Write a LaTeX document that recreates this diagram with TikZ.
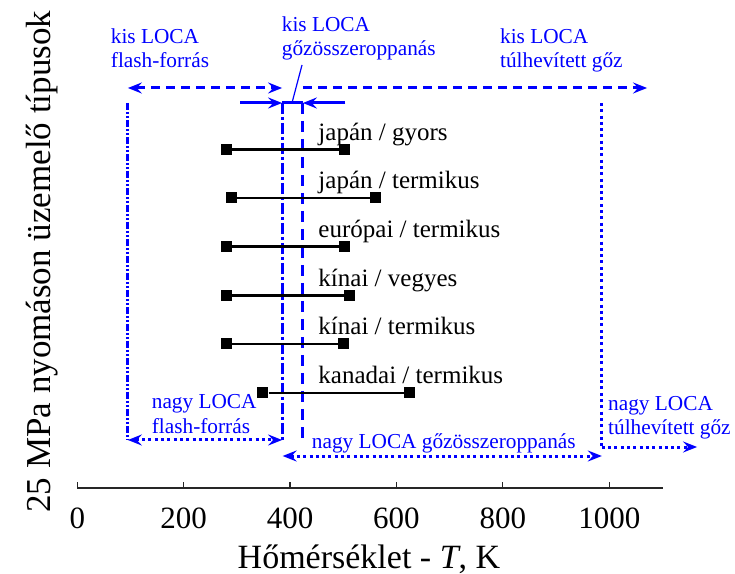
\documentclass[tikz,border=0pt]{standalone}
\usepackage{fontspec}
\setmainfont{Liberation Serif}
\usetikzlibrary{arrows.meta}
\begin{document}
\begin{tikzpicture}[x=0.532pt,y=1pt,
	>={Stealth[length=14pt,width=11pt,inset=5pt]},
	axis/.style={color=black!85,line width=1.6pt},
	tick/.style={color=black!85,line width=1.2pt},
	ticklab/.style={anchor=base,inner sep=0pt,font=\fontsize{31}{36}\selectfont},
	bar/.style={line width=2.6pt},
	sq/.style={fill,minimum size=11pt,inner sep=0pt},
	lab/.style={anchor=base west,inner sep=0pt,font=\fontsize{25}{30}\selectfont},
	loca/.style={color=blue,anchor=base west,inner sep=0pt,align=left,font=\fontsize{21.3}{24.5}\selectfont},
	kis/.style={color=blue,line width=3pt,dash pattern=on 9pt off 6pt},
	nagy/.style={color=blue,line width=3pt,dash pattern=on 3pt off 3.3pt},
	ffline/.style={color=blue,line width=3pt,dash pattern=on 7pt off 2pt on 2pt off 2pt on 2pt off 2pt},
	goline/.style={color=blue,line width=3pt,dash pattern=on 11pt off 3pt on 3pt off 3pt},
	gsline/.style={color=blue,line width=3pt,dash pattern=on 11pt off 7pt},
	tgline/.style={color=blue,line width=3pt,dash pattern=on 3pt off 3.3pt}]
	\useasboundingbox (-145.3,-86) rectangle (1236.3,488);

	% tengely
	\draw[axis] (0,0) -- (1101,0);
	\draw[tick] (0,0) -- (0,6);       \node[ticklab] (t0) at (0,-40.3) {0};
	\draw[tick] (200,0) -- (200,6);   \node[ticklab] (t200) at (200,-40.3) {200};
	\draw[tick] (400,0) -- (400,6);   \node[ticklab] (t400) at (400,-40.3) {400};
	\draw[tick] (600,0) -- (600,6);   \node[ticklab] (t600) at (600,-40.3) {600};
	\draw[tick] (800,0) -- (800,6);   \node[ticklab] (t800) at (800,-40.3) {800};
	\draw[tick] (1000,0) -- (1000,6); \node[ticklab] (t1000) at (1000,-40.3) {1000};
	\node[anchor=base,inner sep=0pt,font=\fontsize{34}{40}\selectfont] (xlab) at (548.3,-80) {Hőmérséklet - \textit{T}, K};
	\node[anchor=base,rotate=90,inner sep=0pt,font=\fontsize{35}{40}\selectfont] (ylab) at (-50.6,226.3) {25 MPa nyomáson üzemelő típusok};

	% hatarok
	\coordinate (fftop) at (95,385);   \coordinate (ffbot) at (95,48);
	\coordinate (gotop) at (385,385);  \coordinate (gobot) at (385,48);
	\coordinate (gstop) at (424,385);  \coordinate (gsbot) at (424,43);
	\coordinate (tgtop) at (986,385);  \coordinate (tgbot) at (986,41);
	\draw[ffline] (fftop) -- (ffbot);
	\draw[goline] (gotop) -- (gobot);
	\draw[gsline] (gstop) -- (gsbot);
	\draw[tgline] (tgtop) -- (tgbot);

	% kis LOCA
	\coordinate (kffa) at (95,400);  \coordinate (kgoa) at (385,400);
	\coordinate (kgsa) at (424,400); \coordinate (ktga) at (1071,400);
	\draw[kis,<->] (kffa) -- (kgoa);
	\draw[kis,->] (kgsa) -- (ktga);
	\coordinate (sl) at (306,385); \coordinate (sr) at (504,385);
	\draw[color=blue,line width=3pt,->] (sl) -- (gotop);
	\draw[color=blue,line width=3pt,->] (sr) -- (gstop);
	\draw[color=blue,line width=3pt] (gotop) -- (gstop);
	\coordinate (ptra) at (404,386); \coordinate (ptrb) at (422.4,423);
	\draw[color=blue,line width=1.2pt] (ptra) -- (ptrb);
	\node[loca] (kisff) at (62.8,420) {kis LOCA\\flash-forrás};
	\node[loca] (kisgo) at (384.2,432) {kis LOCA\\gőzösszeroppanás};
	\node[loca] (kistg) at (794.5,420) {kis LOCA\\túlhevített gőz};

	% nagy LOCA
	\coordinate (ngoa) at (386,32); \coordinate (ntga) at (986,32);
	\coordinate (ntgb) at (1165,41);
	\draw[nagy,<->] (ffbot) -- (gobot);
	\draw[nagy,<->] (ngoa) -- (ntga);
	\draw[nagy,->] (tgbot) -- (ntgb);
	\node[loca] (nagyff) at (139.8,55) {nagy LOCA\\flash-forrás};
	\node[loca] (nagygo) at (440.6,40) {nagy LOCA gőzösszeroppanás};
	\node[loca] (nagytg) at (997.6,53) {nagy LOCA\\túlhevített gőz};

	% tipusok
	\node[sq] (a1) at (280,338.5) {}; \node[sq] (b1) at (502,338.5) {}; \draw[bar] (a1) -- (b1);
	\node[sq] (a2) at (290,290) {};   \node[sq] (b2) at (560,290) {};   \draw[bar] (a2) -- (b2);
	\node[sq] (a3) at (280,241.5) {}; \node[sq] (b3) at (502,241.5) {}; \draw[bar] (a3) -- (b3);
	\node[sq] (a4) at (280,192.5) {}; \node[sq] (b4) at (512,192.5) {}; \draw[bar] (a4) -- (b4);
	\node[sq] (a5) at (280,144) {};   \node[sq] (b5) at (500,144) {};   \draw[bar] (a5) -- (b5);
	\node[sq] (a6) at (349,95) {};    \node[sq] (b6) at (625,95) {};    \draw[bar] (a6) -- (b6);
	\node[lab] (l1) at (453,347.5) {japán / gyors};
	\node[lab] (l2) at (453,299) {japán / termikus};
	\node[lab] (l3) at (453,250.5) {európai / termikus};
	\node[lab] (l4) at (453,201.5) {kínai / vegyes};
	\node[lab] (l5) at (453,153) {kínai / termikus};
	\node[lab] (l6) at (453,104) {kanadai / termikus};
\end{tikzpicture}
\end{document}
